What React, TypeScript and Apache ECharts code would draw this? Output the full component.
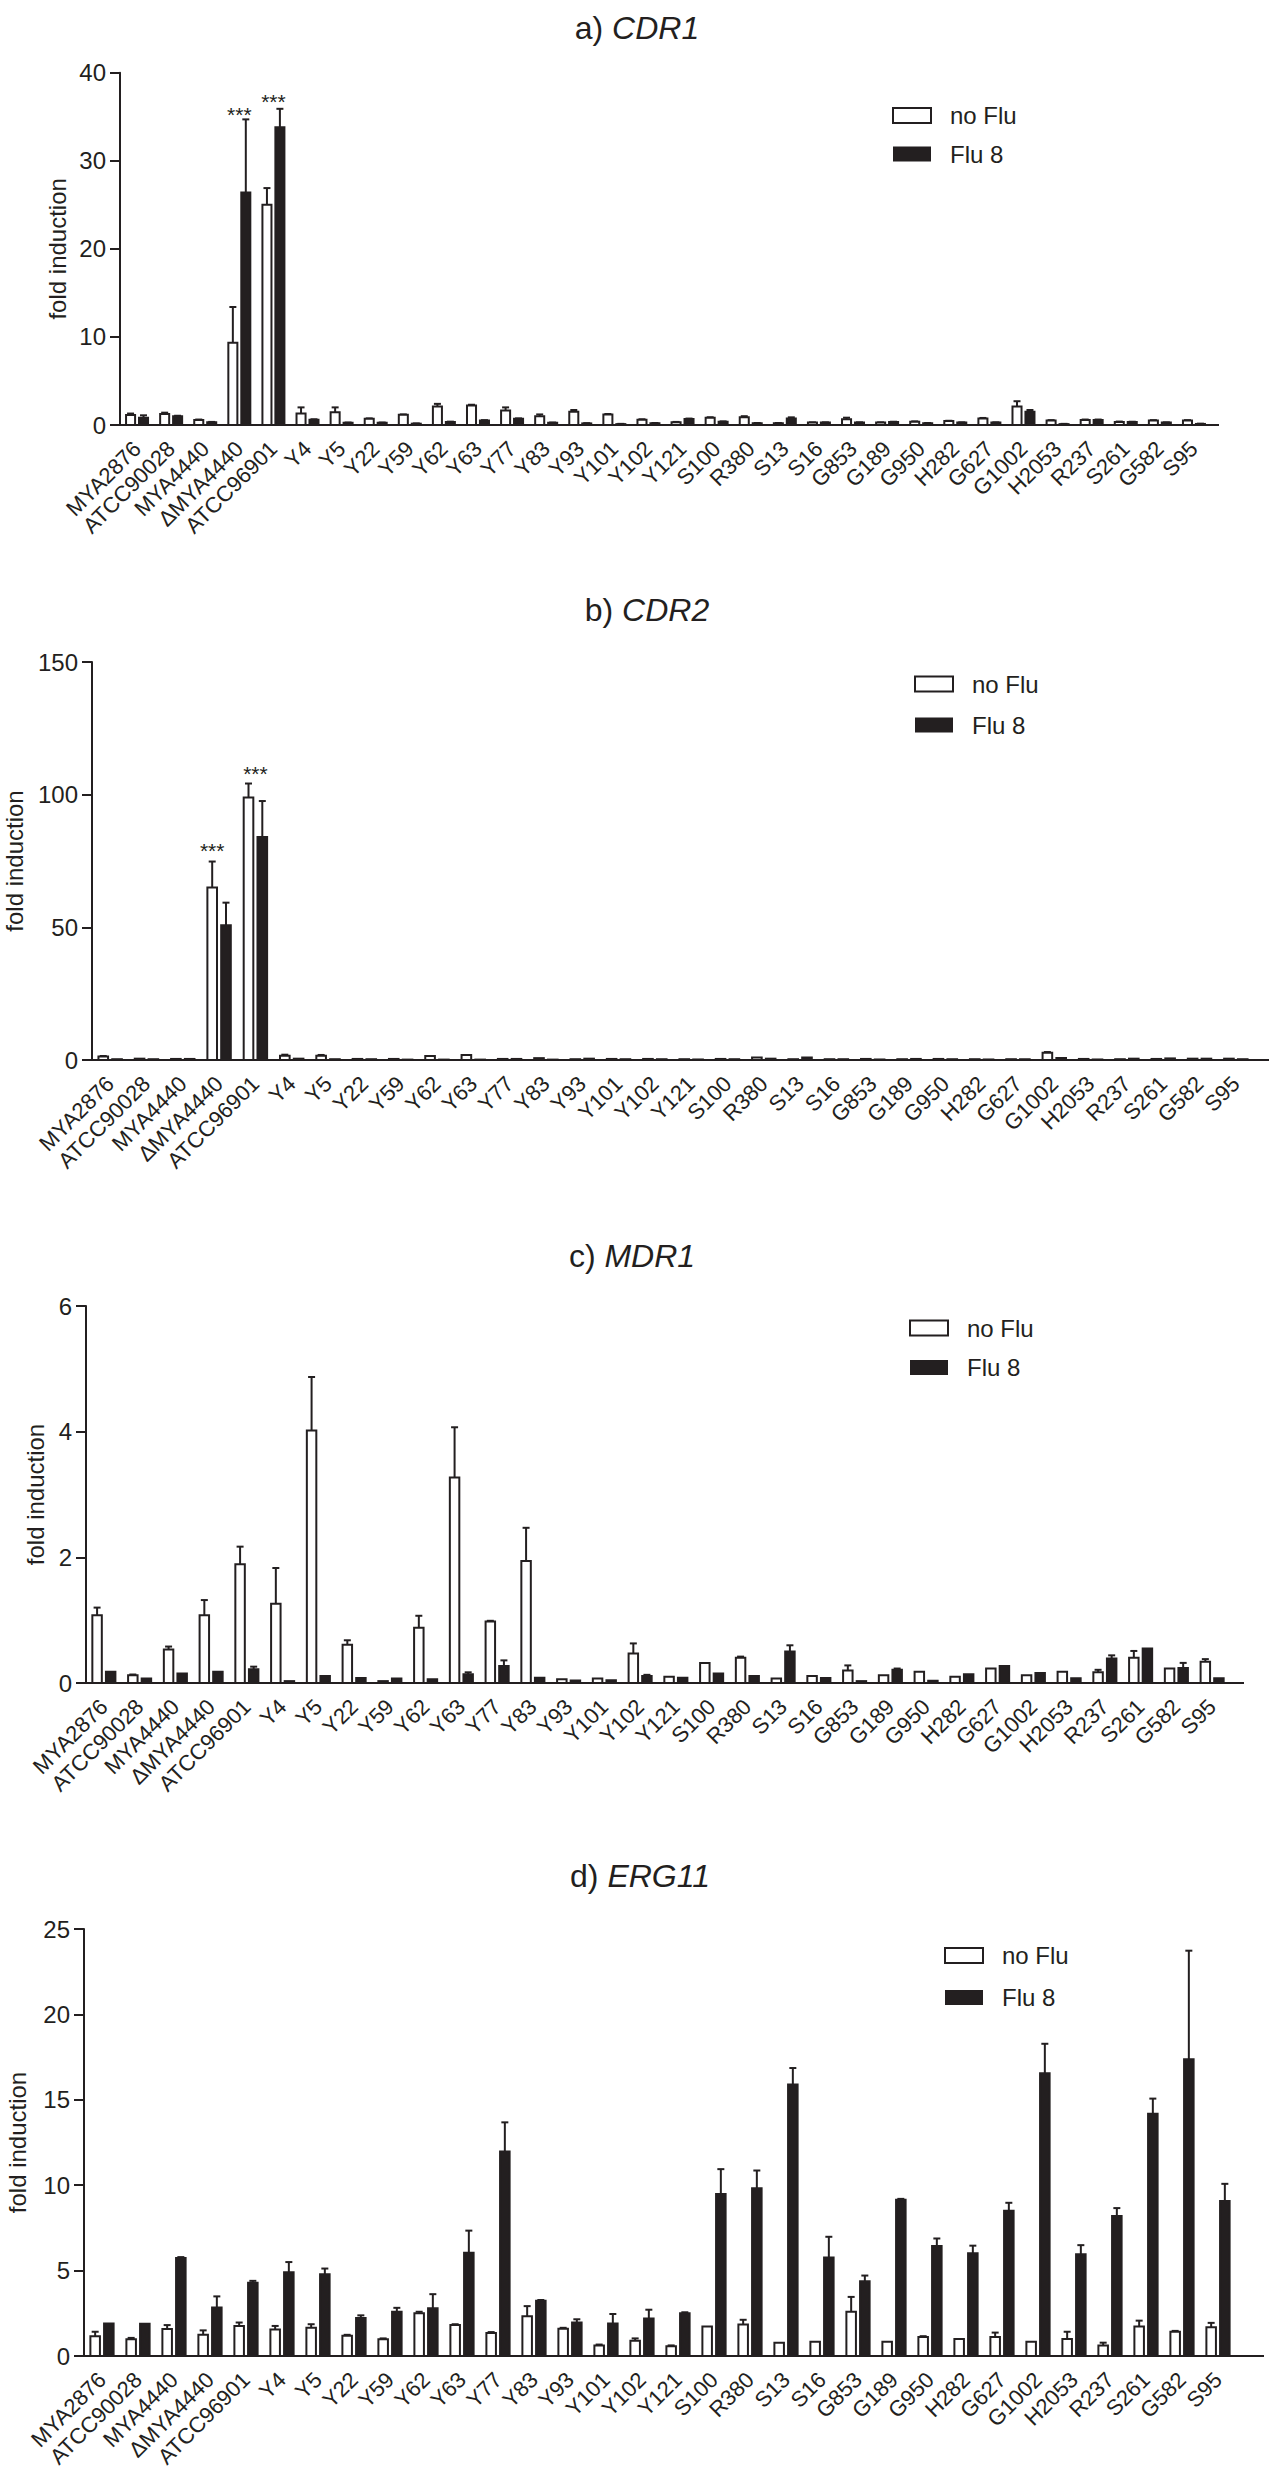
import React, { useEffect, useRef } from 'react';
import * as echarts from 'echarts';

const categories = ['MYA2876', 'ATCC90028', 'MYA4440', 'ΔMYA4440', 'ATCC96901', 'Y4', 'Y5', 'Y22', 'Y59', 'Y62', 'Y63', 'Y77', 'Y83', 'Y93', 'Y101', 'Y102', 'Y121', 'S100', 'R380', 'S13', 'S16', 'G853', 'G189', 'G950', 'H282', 'G627', 'G1002', 'H2053', 'R237', 'S261', 'G582', 'S95'];
const seriesNames = ['no Flu', 'Flu 8'];

// a) CDR1
const cdr1NoFlu = [1.13, 1.25, 0.57, 9.35, 25.0, 1.3, 1.45, 0.7, 1.15, 2.1, 2.2, 1.65, 1.0, 1.5, 1.2, 0.6, 0.3, 0.83, 0.87, 0.2, 0.27, 0.64, 0.27, 0.38, 0.45, 0.75, 2.1, 0.5, 0.57, 0.34, 0.5, 0.5];
const cdr1NoFluErr = [0.17, 0.15, 0.05, 4.05, 1.9, 0.7, 0.55, 0.05, 0.05, 0.3, 0.1, 0.35, 0.2, 0.2, 0.05, 0.05, 0.05, 0.05, 0.13, 0.03, 0.03, 0.19, 0.03, 0.03, 0.03, 0.05, 0.6, 0.05, 0.05, 0.05, 0.05, 0.05];
const cdr1Flu8 = [0.83, 1.0, 0.3, 26.4, 33.8, 0.6, 0.25, 0.25, 0.15, 0.35, 0.5, 0.7, 0.25, 0.18, 0.1, 0.2, 0.68, 0.38, 0.2, 0.75, 0.27, 0.27, 0.34, 0.2, 0.27, 0.27, 1.5, 0.1, 0.57, 0.34, 0.27, 0.12];
const cdr1Flu8Err = [0.27, 0.05, 0.05, 8.3, 2.1, 0.05, 0.03, 0.03, 0.03, 0.03, 0.05, 0.05, 0.03, 0.03, 0.03, 0.03, 0.05, 0.03, 0.03, 0.12, 0.03, 0.03, 0.03, 0.03, 0.03, 0.03, 0.2, 0.03, 0.05, 0.03, 0.03, 0.03];
const cdr1StarCats = ['ΔMYA4440', 'ATCC96901'];
const cdr1StarVals = [35.8, 37.3];

// b) CDR2
const cdr2NoFlu = [1.3, 0.5, 0.4, 65.0, 98.9, 1.6, 1.6, 0.4, 0.4, 1.5, 1.9, 0.4, 0.7, 0.3, 0.4, 0.4, 0.3, 0.4, 0.9, 0.3, 0.3, 0.4, 0.3, 0.4, 0.3, 0.3, 2.7, 0.4, 0.3, 0.4, 0.5, 0.5];
const cdr2NoFluErr = [0.2, 0, 0, 9.8, 5.3, 0.4, 0.3, 0, 0, 0, 0, 0, 0, 0, 0, 0, 0, 0, 0, 0, 0, 0, 0, 0, 0, 0, 0.3, 0, 0, 0, 0, 0];
const cdr2Flu8 = [0.3, 0.3, 0.4, 50.8, 84.0, 0.5, 0.3, 0.3, 0.15, 0.15, 0.15, 0.4, 0.15, 0.5, 0.3, 0.3, 0.2, 0.3, 0.5, 0.9, 0.3, 0.2, 0.4, 0.3, 0.2, 0.3, 0.8, 0.2, 0.5, 0.6, 0.5, 0.3];
const cdr2Flu8Err = [0, 0, 0, 8.5, 13.6, 0, 0, 0, 0, 0, 0, 0, 0, 0, 0, 0, 0, 0, 0, 0, 0, 0, 0, 0, 0, 0, 0, 0, 0, 0, 0, 0];
const cdr2StarCats = ['ΔMYA4440', 'ATCC96901'];
const cdr2StarVals = [80.9, 109.8];

// c) MDR1
const mdr1NoFlu = [1.08, 0.125, 0.535, 1.08, 1.89, 1.26, 4.02, 0.61, 0.03, 0.88, 3.27, 0.98, 1.94, 0.06, 0.07, 0.47, 0.1, 0.32, 0.4, 0.07, 0.11, 0.2, 0.125, 0.18, 0.1, 0.23, 0.125, 0.18, 0.17, 0.4, 0.23, 0.34];
const mdr1NoFluErr = [0.12, 0.01, 0.045, 0.24, 0.28, 0.57, 0.85, 0.07, 0, 0.19, 0.8, 0.01, 0.53, 0, 0, 0.16, 0, 0, 0.02, 0, 0, 0.08, 0, 0, 0, 0, 0, 0, 0.04, 0.11, 0, 0.04];
const mdr1Flu8 = [0.18, 0.07, 0.15, 0.18, 0.22, 0.03, 0.11, 0.08, 0.07, 0.06, 0.14, 0.27, 0.085, 0.04, 0.045, 0.11, 0.085, 0.15, 0.11, 0.5, 0.08, 0.03, 0.21, 0.035, 0.14, 0.27, 0.16, 0.075, 0.39, 0.55, 0.24, 0.075];
const mdr1Flu8Err = [0, 0, 0, 0, 0.04, 0, 0, 0, 0, 0, 0.03, 0.09, 0, 0, 0, 0.02, 0, 0, 0, 0.1, 0, 0, 0.02, 0, 0, 0, 0, 0, 0.05, 0, 0.08, 0];

// d) ERG11
const erg11NoFlu = [1.16, 0.98, 1.58, 1.24, 1.76, 1.55, 1.65, 1.19, 0.98, 2.51, 1.81, 1.34, 2.33, 1.6, 0.62, 0.9, 0.57, 1.73, 1.84, 0.78, 0.83, 2.59, 0.83, 1.11, 1.0, 1.11, 0.83, 1.0, 0.62, 1.73, 1.42, 1.68];
const erg11NoFluErr = [0.26, 0.08, 0.23, 0.26, 0.2, 0.21, 0.21, 0.05, 0.05, 0.08, 0.05, 0.06, 0.59, 0.05, 0.05, 0.13, 0.05, 0, 0.28, 0, 0, 0.87, 0, 0.05, 0, 0.26, 0, 0.42, 0.16, 0.34, 0.05, 0.26];
const erg11Flu8 = [1.91, 1.89, 5.74, 2.84, 4.29, 4.91, 4.78, 2.22, 2.59, 2.79, 6.05, 11.97, 3.23, 1.96, 1.91, 2.2, 2.51, 9.49, 9.82, 15.9, 5.77, 4.37, 9.15, 6.44, 6.02, 8.5, 16.55, 5.95, 8.2, 14.19, 17.37, 9.07];
const erg11Flu8Err = [0, 0, 0.05, 0.65, 0.11, 0.59, 0.34, 0.16, 0.23, 0.83, 1.29, 1.71, 0.05, 0.19, 0.55, 0.51, 0.05, 1.45, 1.04, 0.96, 1.21, 0.34, 0.05, 0.44, 0.44, 0.47, 1.73, 0.54, 0.46, 0.88, 6.36, 1.01];

const INK = '#231f20';
const FONT = '"Liberation Sans", Arial, Helvetica, sans-serif';

type Panel = {
  letter: string; gene: string;
  noFlu: number[]; noFluErr: number[]; flu: number[]; fluErr: number[];
  yMax: number; yStep: number;
  starCats: string[]; starVals: number[]; starSide: number[];
  left: number; top: number; width: number; bottom: number; axisEnd: number;
  titleX: number; titleY: number; nameX: number;
  legendLeft: number; legendTop: number; legendGap: number;
};

const panels: Panel[] = [
  { letter: 'a)', gene: 'CDR1', noFlu: cdr1NoFlu, noFluErr: cdr1NoFluErr, flu: cdr1Flu8, fluErr: cdr1Flu8Err,
    yMax: 40, yStep: 10, starCats: cdr1StarCats, starVals: cdr1StarVals, starSide: [0, 0],
    left: 120, top: 72.7, width: 1091, bottom: 425, axisEnd: 1219,
    titleX: 637, titleY: 28, nameX: 57, legendLeft: 892, legendTop: 103.5, legendGap: 14.5 },
  { letter: 'b)', gene: 'CDR2', noFlu: cdr2NoFlu, noFluErr: cdr2NoFluErr, flu: cdr2Flu8, fluErr: cdr2Flu8Err,
    yMax: 150, yStep: 50, starCats: cdr2StarCats, starVals: cdr2StarVals, starSide: [-1, 0],
    left: 92, top: 662, width: 1162, bottom: 1060, axisEnd: 1269,
    titleX: 647, titleY: 610, nameX: 14, legendLeft: 914, legendTop: 672, legendGap: 17 },
  { letter: 'c)', gene: 'MDR1', noFlu: mdr1NoFlu, noFluErr: mdr1NoFluErr, flu: mdr1Flu8, fluErr: mdr1Flu8Err,
    yMax: 6, yStep: 2, starCats: [], starVals: [], starSide: [],
    left: 86, top: 1306, width: 1144, bottom: 1683, axisEnd: 1244,
    titleX: 632, titleY: 1256, nameX: 35, legendLeft: 909, legendTop: 1316, legendGap: 15.5 },
  { letter: 'd)', gene: 'ERG11', noFlu: erg11NoFlu, noFluErr: erg11NoFluErr, flu: erg11Flu8, fluErr: erg11Flu8Err,
    yMax: 25, yStep: 5, starCats: [], starVals: [], starSide: [],
    left: 84, top: 1929, width: 1152, bottom: 2356, axisEnd: 1264,
    titleX: 640, titleY: 1876, nameX: 17, legendLeft: 944, legendTop: 1943.5, legendGap: 18 },
];

const BAR_W = 0.265;
const BAR_OFF = 0.19;

function barRenderer(side: number, fill: string) {
  return (_params: any, api: any) => {
    const idx = api.value(0);
    const v = api.value(1);
    const e = api.value(2);
    const base = api.coord([idx, 0]);
    const top = api.coord([idx, v]);
    const band = api.size([1, 0])[0];
    const w = band * BAR_W;
    const cx = base[0] + side * band * BAR_OFF;
    const children: any[] = [];
    if (e > 0) {
      const et = api.coord([idx, v + e]);
      children.push({ type: 'line', shape: { x1: cx, y1: top[1], x2: cx, y2: et[1] }, style: { stroke: INK, lineWidth: 2 } });
      children.push({ type: 'line', shape: { x1: cx - 3.5, y1: et[1], x2: cx + 3.5, y2: et[1] }, style: { stroke: INK, lineWidth: 2 } });
    }
    children.push({ type: 'rect', shape: { x: cx - w / 2, y: top[1], width: w, height: base[1] - top[1] }, style: { fill, stroke: INK, lineWidth: 2 } });
    return { type: 'group', children };
  };
}

function starRenderer(sides: number[]) {
  return (params: any, api: any) => {
    const idx = api.value(0);
    const p = api.coord([idx, api.value(1)]);
    const band = api.size([1, 0])[0];
    const side = sides[params.dataIndex] || 0;
    return {
      type: 'text', x: p[0] + side * band * BAR_OFF, y: p[1] + 5,
      style: { text: '***', fontSize: 21, fontFamily: FONT, fill: INK, align: 'center', verticalAlign: 'middle' },
    };
  };
}

export default function App() {
  const ref = useRef<HTMLDivElement>(null);
  useEffect(() => {
    if (!ref.current) return;
    const chart = echarts.init(ref.current, undefined, { renderer: 'svg' });
    const grid: any[] = [];
    const xAxis: any[] = [];
    const yAxis: any[] = [];
    const series: any[] = [];
    const legend: any[] = [];
    const graphic: any[] = [];
    panels.forEach((p, i) => {
      grid.push({ left: p.left, top: p.top, width: p.width, height: p.bottom - p.top });
      xAxis.push({
        type: 'category', gridIndex: i, data: categories,
        axisLine: { lineStyle: { color: INK, width: 2 } },
        axisTick: { alignWithLabel: true, interval: 0, length: 10, lineStyle: { color: INK, width: 2 } },
        axisLabel: { interval: 0, rotate: 45, fontSize: 22, color: INK, fontFamily: FONT, margin: 20 },
      });
      yAxis.push({
        type: 'value', gridIndex: i, min: 0, max: p.yMax, interval: p.yStep,
        axisLine: { show: true, lineStyle: { color: INK, width: 2 } },
        axisTick: { show: true, length: 10, lineStyle: { color: INK, width: 2 } },
        axisLabel: { fontSize: 24, color: INK, fontFamily: FONT, margin: 14 },
        splitLine: { show: false },
      });
      series.push({
        type: 'custom', name: seriesNames[0], xAxisIndex: i, yAxisIndex: i,
        itemStyle: { color: '#ffffff', borderColor: INK, borderWidth: 2 },
        renderItem: barRenderer(-1, '#ffffff'),
        data: categories.map((_c, k) => [k, p.noFlu[k], p.noFluErr[k]]),
        clip: false,
      });
      series.push({
        type: 'custom', name: seriesNames[1], xAxisIndex: i, yAxisIndex: i,
        itemStyle: { color: INK },
        renderItem: barRenderer(1, INK),
        data: categories.map((_c, k) => [k, p.flu[k], p.fluErr[k]]),
        clip: false,
      });
      if (p.starCats.length) {
        series.push({
          type: 'custom', name: 'stars' + i, xAxisIndex: i, yAxisIndex: i,
          renderItem: starRenderer(p.starSide),
          data: p.starCats.map((c, k) => [categories.indexOf(c), p.starVals[k]]),
          clip: false,
        });
      }
      legend.push({
        orient: 'vertical', left: p.legendLeft, top: p.legendTop, padding: 0,
        itemWidth: 38, itemHeight: 15, itemGap: p.legendGap, selectedMode: false,
        textStyle: { fontSize: 24, color: INK, fontFamily: FONT, padding: [0, 0, 0, 14] },
        data: [
          { name: seriesNames[0], icon: 'rect', itemStyle: { color: '#ffffff', borderColor: INK, borderWidth: 2 } },
          { name: seriesNames[1], icon: 'rect', itemStyle: { color: INK, borderColor: INK, borderWidth: 0 } },
        ],
      });
      graphic.push({
        type: 'text', x: p.titleX, y: p.titleY,
        style: {
          text: `{n|${p.letter} }{g|${p.gene}}`, align: 'center', verticalAlign: 'middle',
          rich: {
            n: { fontSize: 32, fontFamily: FONT, fill: INK },
            g: { fontSize: 32, fontFamily: FONT, fill: INK, fontStyle: 'italic' },
          },
        },
      });
      graphic.push({
        type: 'text', x: p.nameX, y: (p.top + p.bottom) / 2, rotation: Math.PI / 2,
        style: { text: 'fold induction', fontSize: 24, fontFamily: FONT, fill: INK, align: 'center', verticalAlign: 'middle' },
      });
      graphic.push({
        type: 'line', shape: { x1: p.left + p.width - 1, y1: p.bottom, x2: p.axisEnd, y2: p.bottom },
        style: { stroke: INK, lineWidth: 2 },
      });
    });
    chart.setOption({
      animation: false,
      backgroundColor: '#ffffff',
      textStyle: { fontFamily: FONT },
      grid, xAxis, yAxis, series, legend, graphic,
    });
    return () => chart.dispose();
  }, []);
  return <div ref={ref} style={{ position: 'absolute', left: 0, top: 0, width: 1272, height: 2492 }} />;
}
